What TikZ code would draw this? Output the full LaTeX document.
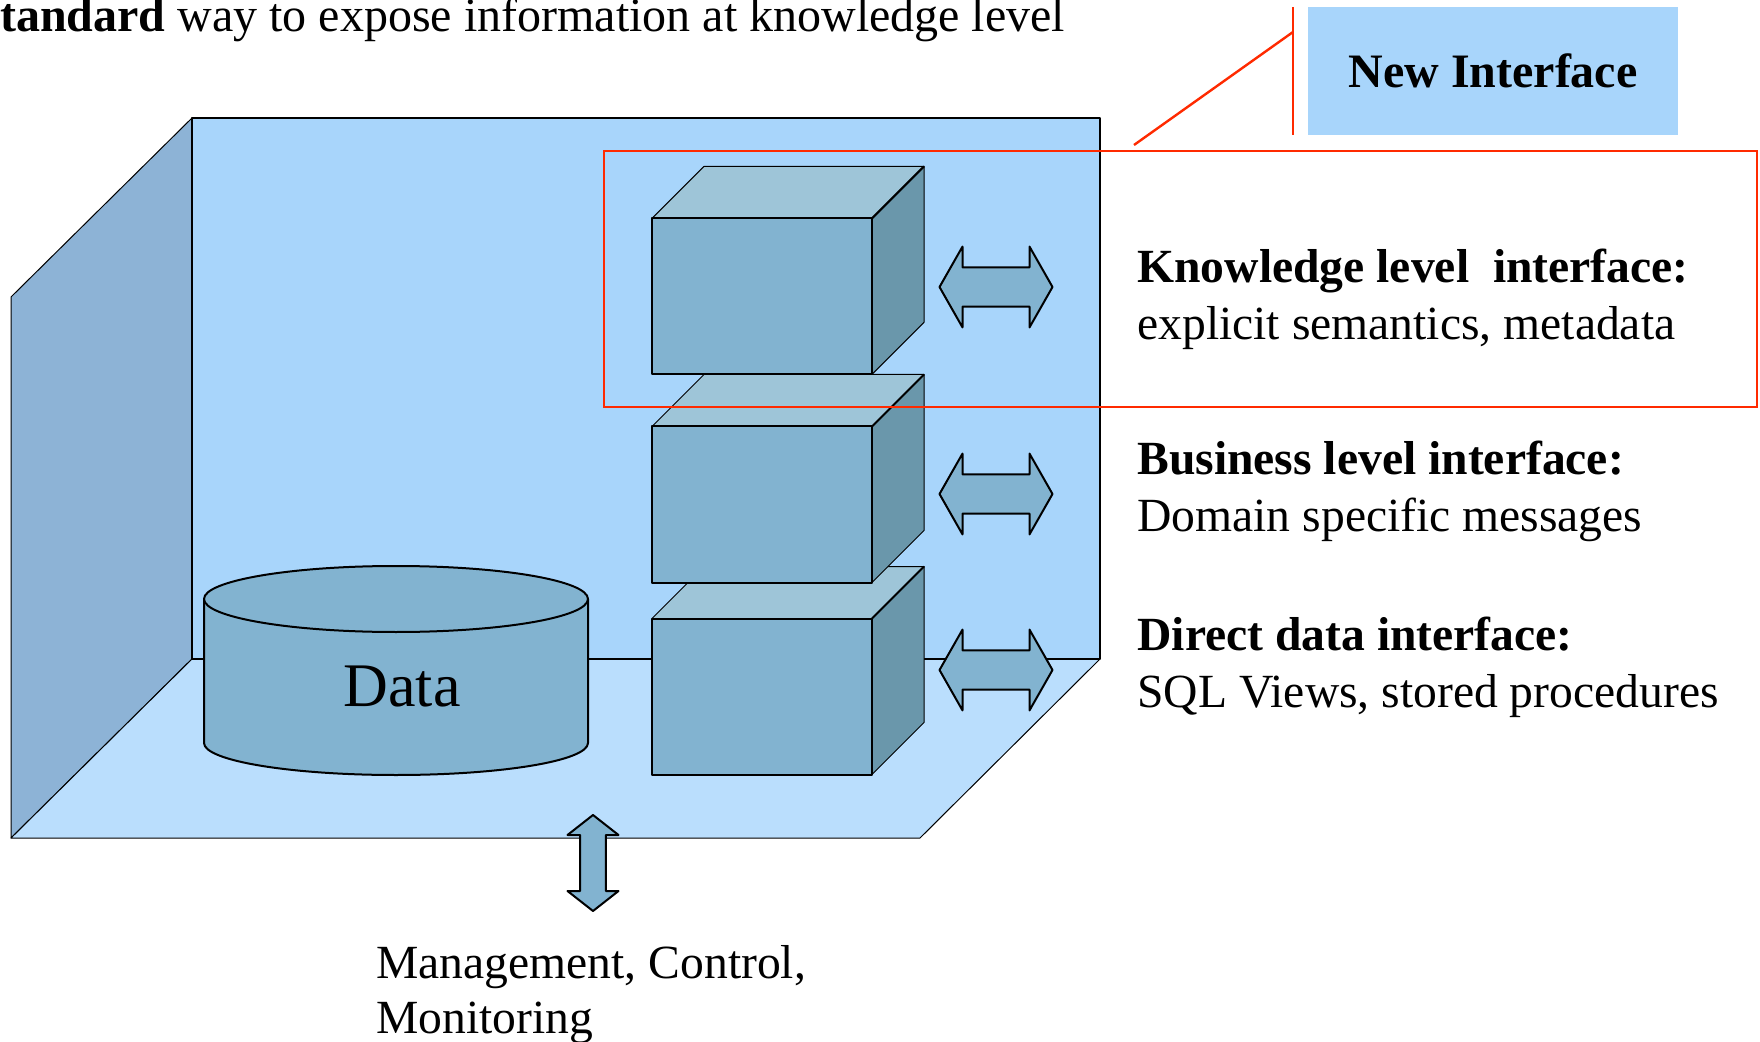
\documentclass[tikz,border=0pt]{standalone}
\usepackage{fontspec}
\setmainfont{Liberation Serif}
\definecolor{backwall}{HTML}{A8D5FB}
\definecolor{floorblue}{HTML}{BADEFD}
\definecolor{leftwall}{HTML}{8DB3D6}
\definecolor{boxfront}{HTML}{82B3D0}
\definecolor{boxtop}{HTML}{9EC5D8}
\definecolor{boxside}{HTML}{6A97AB}
\definecolor{calloutred}{HTML}{FF2A00}

\tikzset{
  edge/.style={draw=black, line width=1pt, line join=round},
  thinedge/.style={draw=black, line width=0.5pt, line join=round},
  callout/.style={draw=calloutred, line width=1.2pt},
  txt/.style={anchor=base west, inner sep=0pt, font=\fontsize{23.8}{28}\selectfont},
}

% one stacked interface block, #1 = top of its front face
\newcommand{\layerbox}[1]{%
  \filldraw[fill=boxtop, thinedge] (652,#1) -- (704,#1-52) -- (924,#1-52) -- (872,#1) -- cycle;
  \filldraw[fill=boxside, thinedge] (872,#1) -- (924,#1-52) -- (924,#1+104) -- (872,#1+156) -- cycle;
  \filldraw[fill=boxfront, edge] (652,#1) rectangle (872,#1+156);
  \draw[edge] (872,#1) -- (924,#1-52);
}
% double arrow, #1 = centre
\newcommand{\sidearrow}[1]{%
  \filldraw[fill=boxfront, edge, shift={#1}] (-56.5,0) -- (-33.5,-40.4) -- (-33.5,-19.7) -- (33.5,-19.7)
    -- (33.5,-40.4) -- (56.5,0) -- (33.5,40.4) -- (33.5,19.7) -- (-33.5,19.7) -- (-33.5,40.4) -- cycle;
}

\begin{document}
\begin{tikzpicture}[x=0.5pt,y=-0.5pt]
  \useasboundingbox (0,0) rectangle (1760,1042);
  \clip (0,0) rectangle (1760,1042);

  % room
  \filldraw[fill=leftwall, thinedge] (11,297) -- (192,118) -- (192,659) -- (11,838) -- cycle;
  \filldraw[fill=backwall, edge] (192,118) rectangle (1100,659);
  \filldraw[fill=floorblue, thinedge] (192,659) -- (1100,659) -- (920,838) -- (11,838) -- cycle;
  \draw[edge] (192,659) -- (1100,659);

  % data store
  \filldraw[fill=boxfront, edge] (204,599) -- (204,743) arc[start angle=180, end angle=0, x radius=192, y radius=32] -- (588,599);
  \filldraw[fill=boxfront, edge] (396,599) ellipse[x radius=192, y radius=33];
  \node (data) at (402,687) {\fontsize{31}{36}\selectfont Data};

  % interface blocks
  \layerbox{618.5}
  \layerbox{426.5}
  \layerbox{218.4}

  \sidearrow{(996,287)}
  \sidearrow{(996,494)}
  \sidearrow{(996,670)}

  % management arrow
  \filldraw[fill=boxfront, edge, shift={(593,863)}] (0,-48) -- (25.5,-28) -- (12.8,-28) -- (12.8,28)
    -- (25.5,28) -- (0,48) -- (-25.5,28) -- (-12.8,28) -- (-12.8,-28) -- (-25.5,-28) -- cycle;

  % new interface callout
  \draw[callout] (604,151) rectangle (1757,407);
  \node[fill=backwall, minimum width=185pt, minimum height=64pt, inner sep=0pt,
        font=\fontsize{24}{28}\selectfont\bfseries] (newif) at (1493,71) {New Interface};
  \coordinate (ctop) at (1293,7);
  \coordinate (cbot) at (1293,135);
  \coordinate (cfoot) at (1134,145);
  \coordinate (cknee) at (1293,32);
  \draw[callout] (ctop) -- (cbot);
  \draw[callout] (cfoot) -- (cknee);

  % labels
  \node[txt, font=\fontsize{24}{28}\selectfont] (title) at (-27,31.7) {\textbf{Standard} way to expose information at knowledge level};
  \node[txt] (know) at (1137,283) {\textbf{Knowledge level\ \ interface:}};
  \node[txt] (knowsub) at (1137,340) {explicit semantics, metadata};
  \node[txt] (busi) at (1137,475) {\textbf{Business level interface:}};
  \node[txt] (busisub) at (1137,531.7) {Domain specific messages};
  \node[txt] (direct) at (1137,650) {\textbf{Direct data interface:}};
  \node[txt] (directsub) at (1137,707) {SQL Views, stored procedures};
  \node[txt] (mgmt) at (376,978) {Management, Control,};
  \node[txt] (mgmtsub) at (376,1033) {Monitoring};
\end{tikzpicture}
\end{document}
